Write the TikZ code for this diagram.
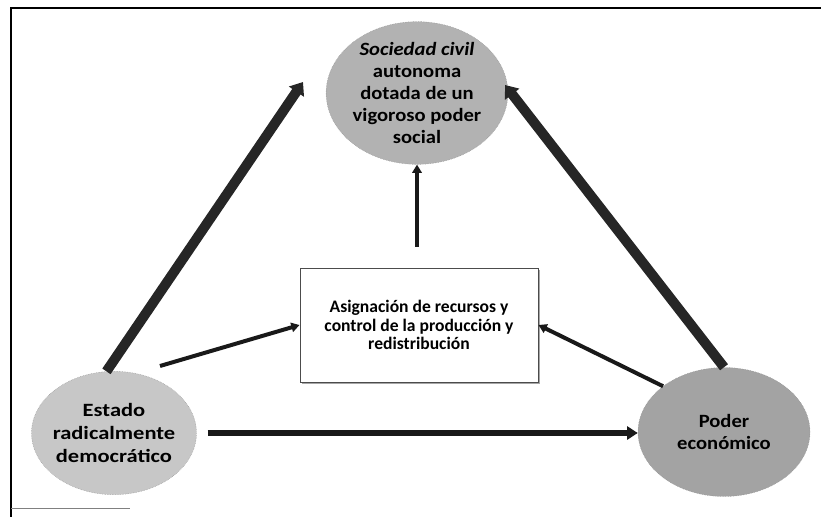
\documentclass[tikz,border=0pt]{standalone}
\usepackage{fontspec}
\setmainfont{Carlito}
\newfontfamily\algoancha[FakeStretch=1.1]{Carlito}
\newcommand{\ancho}[1]{\scalebox{1.2}[1]{#1}}
\usetikzlibrary{shapes.geometric, arrows.meta, shadows}

\begin{document}
\begin{tikzpicture}[x=0.03cm, y=-0.03cm,
    circulo/.style={ellipse, draw=black!45, densely dotted, inner sep=0pt, align=center,
        font=\algoancha\fontsize{16}{18.7}\selectfont\bfseries},
    caja/.style={rectangle, draw=black!70, line width=0.8pt, fill=white, align=center,
        minimum width=7.14cm, minimum height=3.42cm,
        drop shadow={shadow xshift=2pt, shadow yshift=-2pt, fill=black!35, opacity=1},
        font=\fontsize{15}{16}\selectfont\bfseries},
    gruesa/.style={line width=8.5pt, black!85, -{Triangle[width=15pt, length=10pt]}},
    media/.style={line width=5pt, black!90, -{Triangle[width=11pt, length=9pt]}},
    delgada/.style={line width=3.4pt, black!90, -{Triangle[width=8pt, length=7pt]}}]
    \useasboundingbox (0,0) rectangle (821,517);
    % frame
    \draw[line width=1.7pt] (11,517) -- (11,8) -- (821,8);
    \draw[black!50, line width=0.6pt] (11,508) -- (130,508);
    % nodes
    \node[circulo, fill=black!30, minimum width=4.2cm, minimum height=4.02cm] (soc) at (417,93)
        {\textit{Sociedad civil}\\autonoma\\dotada de un\\vigoroso poder\\social};
    \node[circulo, fill=black!22, minimum width=4.95cm, minimum height=3.7cm,
        inner xsep=-0.6cm, font=\fontsize{16}{20}\selectfont\bfseries] (estado) at (114,433)
        {\ancho{Estado}\\\ancho{radicalmente}\\\ancho{democrático}};
    \node[circulo, fill=black!36, minimum width=5.16cm, minimum height=3.87cm] (poder) at (724,432)
        {Poder\\económico};
    \node[caja] (asig) at (419,325)
        {Asignación de recursos y\\control de la producción y\\redistribución};
    % free ends
    \coordinate (puntaL) at (303,82);
    \coordinate (puntaR) at (505,85);
    \coordinate (salidaL) at (160,366);
    % arrows
    \draw[gruesa] (estado.97) -- (puntaL);
    \draw[gruesa] (poder.north) -- (puntaR);
    \draw[media, shorten <=0.33cm] (estado.east) -- (estado.east -| poder.west);
    \draw[delgada] (salidaL) -- (asig.west);
    \draw[delgada] (poder.north west) -- (asig.east);
    \draw[delgada, line width=3pt, shorten <=0.63cm] (asig.north -| soc.south) -- (soc.south);
\end{tikzpicture}
\end{document}
